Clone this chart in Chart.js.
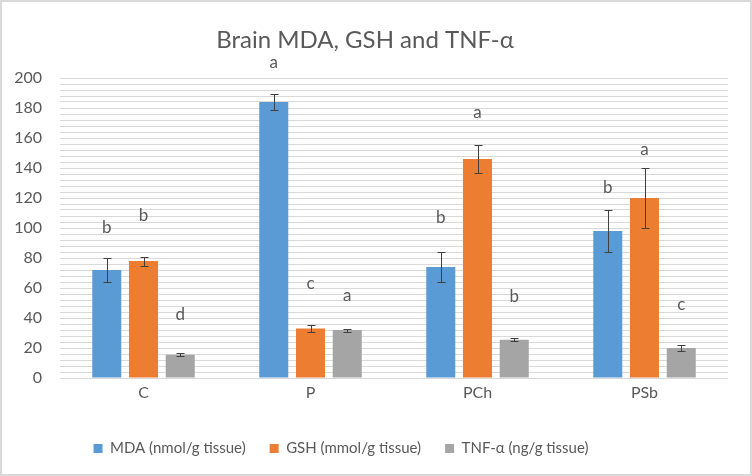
<!DOCTYPE html>
<html>
<head>
<meta charset="utf-8">
<script src="https://cdn.jsdelivr.net/npm/chart.js@4"></script>
<style>
  html, body { margin: 0; padding: 0; background: #fff; }
  #wrap { width: 752px; height: 476px; box-sizing: border-box; border: 2px solid #d9d9d9; }
  canvas { display: block; }
</style>
</head>
<body>
<div id="wrap"><canvas id="chart" width="748" height="472"></canvas></div>
<script>
"use strict";

// ─── Data ──────────────────────────────────────────────────
const groups = ["C", "P", "PCh", "PSb"];
const seriesNames = ["MDA (nmol/g tissue)", "GSH (mmol/g tissue)", "TNF-α (ng/g tissue)"];

const mdaValues = [72, 184, 74, 98];
const gshValues = [78, 33, 146, 120];
const tnfValues = [15.5, 32, 25.5, 20];

const mdaErrors = [8, 5.5, 10, 14];
const gshErrors = [3, 2.2, 9.6, 20];
const tnfErrors = [1, 1, 1, 1.7];

// significance letters and the value height where each sits
const mdaLetters = ["b", "a", "b", "b"];
const gshLetters = ["b", "c", "a", "a"];
const tnfLetters = ["d", "a", "b", "c"];
const mdaLetterAt = [100, 210, 107, 127];
const gshLetterAt = [108, 63, 177, 152];
const tnfLetterAt = [42, 55, 54, 49];

const yTickLabels = [0, 20, 40, 60, 80, 100, 120, 140, 160, 180, 200];

// ─── Palette ───────────────────────────────────────────────
const COLORS = { blue: "#5b9bd5", orange: "#ed7d31", gray: "#a5a5a5" };
const TEXT = "#595959";
const GRID = "#d9d9d9";
const FONT = "Lato, 'Open Sans', sans-serif";

const seriesValues = [mdaValues, gshValues, tnfValues];
const seriesErrors = [mdaErrors, gshErrors, tnfErrors];
const seriesLetters = [mdaLetters, gshLetters, tnfLetters];
const seriesLetterAt = [mdaLetterAt, gshLetterAt, tnfLetterAt];
const seriesColors = [COLORS.blue, COLORS.orange, COLORS.gray];

// ─── Error bars + letters plugin ───────────────────────────
const errorBarsPlugin = {
  id: "errorBars",
  afterLayout(chart) {
    // legend sits a bit left of centre in the original
    if (chart.legend) { chart.legend.left -= 24; chart.legend.right -= 24; }
  },
  afterDatasetsDraw(chart) {
    const { ctx } = chart;
    const y = chart.scales.y;
    ctx.save();
    chart.data.datasets.forEach((ds, di) => {
      const meta = chart.getDatasetMeta(di);
      meta.data.forEach((bar, i) => {
        const v = ds.data[i];
        const e = seriesErrors[di][i];
        const yTop = Math.round(y.getPixelForValue(v + e)) + 0.5;
        const yBot = Math.round(y.getPixelForValue(v - e)) + 0.5;
        const x = Math.round(bar.x) + 0.5;
        ctx.strokeStyle = "#404040";
        ctx.lineWidth = 1;
        ctx.beginPath();
        ctx.moveTo(x, yTop); ctx.lineTo(x, yBot);
        ctx.moveTo(x - 4, yTop); ctx.lineTo(x + 4, yTop);
        ctx.moveTo(x - 4, yBot); ctx.lineTo(x + 4, yBot);
        ctx.stroke();

        ctx.fillStyle = TEXT;
        ctx.font = "17px " + FONT;
        ctx.textAlign = "center";
        ctx.textBaseline = "middle";
        ctx.fillText(seriesLetters[di][i], bar.x, y.getPixelForValue(seriesLetterAt[di][i]));
      });
    });
    ctx.restore();
  },
};

// ─── Chart ─────────────────────────────────────────────────
new Chart(document.getElementById("chart"), {
  type: "bar",
  data: {
    labels: groups,
    datasets: seriesNames.map((name, i) => ({
      label: name,
      data: seriesValues[i],
      backgroundColor: seriesColors[i],
      borderWidth: 0,
      categoryPercentage: 0.66,
      barPercentage: 0.79,
    })),
  },
  options: {
    responsive: false,
    animation: false,
    layout: { padding: { left: 0, right: 22, top: 0, bottom: 8 } },
    scales: {
      x: {
        grid: { display: false, drawTicks: false },
        border: { display: false },
        ticks: { color: TEXT, font: { family: FONT, size: 16 }, padding: 5 },
        afterFit: (s) => { s.height = 39; },
      },
      y: {
        min: 0,
        max: 200,
        grid: { color: GRID, lineWidth: 1, drawTicks: false },
        border: { display: false },
        ticks: {
          stepSize: 4,
          maxTicksLimit: 60,
          autoSkip: false,
          padding: 18,
          color: TEXT,
          font: { family: FONT, size: 16 },
          callback: (v) => (yTickLabels.includes(v) ? String(v) : ""),
        },
        afterFit: (s) => { s.width = 58; },
      },
    },
    plugins: {
      title: {
        display: true,
        text: "Brain MDA, GSH and TNF-α",
        color: TEXT,
        font: { family: FONT, size: 24, weight: "normal" },
        padding: { top: 24, bottom: 23.2 },
      },
      legend: {
        position: "bottom",
        labels: {
          color: TEXT,
          font: { family: FONT, size: 15 },
          boxWidth: 9,
          boxHeight: 9,
          padding: 24,
        },
      },
      tooltip: { enabled: false },
    },
  },
  plugins: [errorBarsPlugin],
});
</script>
</body>
</html>
